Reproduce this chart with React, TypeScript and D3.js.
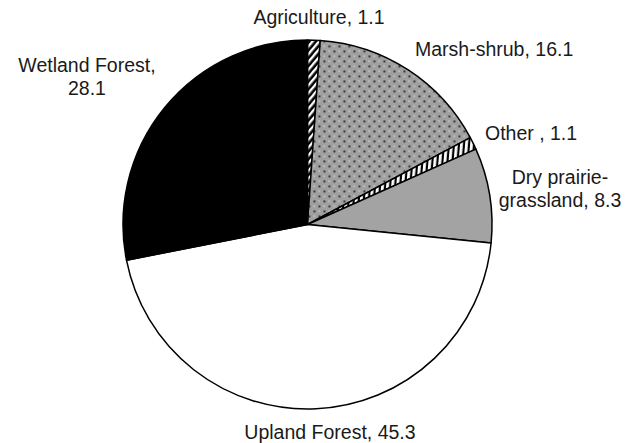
import React from "react";
import * as d3 from "d3";

const categories = ["Agriculture", "Marsh-shrub", "Other ", "Dry prairie-grassland", "Upland Forest", "Wetland Forest"];
const values = [1.1, 16.1, 1.1, 8.3, 45.3, 28.1];
const fills = ["url(#diag)", "url(#dots)", "url(#vert)", "#a3a3a3", "#ffffff", "#000000"];
const labelLines = [
  ["Agriculture, 1.1"],
  ["Marsh-shrub, 16.1"],
  ["Other , 1.1"],
  ["Dry prairie-", "grassland, 8.3"],
  ["Upland Forest, 45.3"],
  ["Wetland Forest,", "28.1"],
];
const labelPos: [number, number, string][] = [
  [319, 24, "middle"],
  [415, 56, "start"],
  [485, 140, "start"],
  [560, 184, "middle"],
  [330, 439, "middle"],
  [87, 72, "middle"],
];

export default function App() {
  const W = 639, H = 443;
  const cx = 307.5, cy = 224.5, r = 184.5;
  const pie = d3.pie<number>().sort(null).value((d) => d);
  const arcs = pie(values);
  const arc = d3.arc<d3.PieArcDatum<number>>().innerRadius(0).outerRadius(r);
  return (
    <svg width={W} height={H} style={{ position: "absolute", left: 0, top: 0, background: "#fff" }}>
      <defs>
        <pattern id="diag" patternUnits="userSpaceOnUse" width="5" height="5" patternTransform="rotate(40)">
          <rect width="5" height="5" fill="#000" />
          <rect width="2.4" height="5" fill="#fff" />
        </pattern>
        <pattern id="vert" patternUnits="userSpaceOnUse" width="5" height="5" patternTransform="rotate(5)">
          <rect width="5" height="5" fill="#000" />
          <rect width="2.8" height="5" fill="#fff" />
        </pattern>
        <pattern id="dots" patternUnits="userSpaceOnUse" width="10" height="10">
          <rect width="10" height="10" fill="#a0a0a0" />
          <rect x="1" y="1" width="1.8" height="1.8" fill="#222" />
          <rect x="6" y="6" width="1.8" height="1.8" fill="#222" />
          <rect x="6" y="1" width="1.3" height="1.3" fill="#dcdcdc" />
          <rect x="1" y="6" width="1.3" height="1.3" fill="#dcdcdc" />
        </pattern>
      </defs>
      <g transform={`translate(${cx},${cy})`}>
        {arcs.map((a, i) => (
          <path key={categories[i]} d={arc(a) || ""} fill={fills[i]} stroke="#000" strokeWidth={1.5} strokeLinejoin="round" />
        ))}
      </g>
      <g fontFamily="'Liberation Sans', Arial, sans-serif" fontSize={19.5} fill="#1a1a1a">
        {labelLines.map((lines, i) => (
          <text key={i} x={labelPos[i][0]} y={labelPos[i][1]} textAnchor={labelPos[i][2] as any}>
            {lines.map((l, j) => (
              <tspan key={j} x={labelPos[i][0]} dy={j === 0 ? 0 : 23}>{l}</tspan>
            ))}
          </text>
        ))}
      </g>
    </svg>
  );
}
